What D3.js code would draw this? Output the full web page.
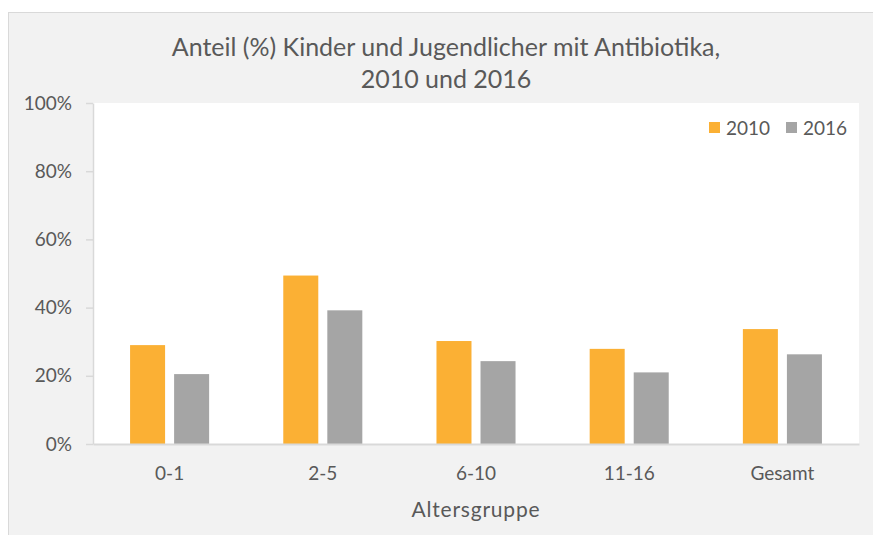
<!DOCTYPE html>
<html>
<head>
<meta charset="utf-8">
<script src="https://cdn.jsdelivr.net/npm/d3@7"></script>
<style>
  html, body { margin: 0; padding: 0; background: #fff; }
  svg { display: block; font-family: Lato, "Open Sans", sans-serif; }
  .axis text { fill: #595959; }
</style>
</head>
<body>
<svg id="chart" width="873" height="535"></svg>
<script>
// --- data ---
const categories = ['0-1', '2-5', '6-10', '11-16', 'Gesamt'];
const series     = ['2010', '2016'];
const values2010 = [0.290, 0.494, 0.302, 0.279, 0.337];
const values2016 = [0.205, 0.392, 0.243, 0.210, 0.263];
const yTicks     = [0, 0.2, 0.4, 0.6, 0.8, 1.0];
const titleLines = ['Anteil (%) Kinder und Jugendlicher mit Antibiotika,', '2010 und 2016'];

const COLOR = { '2010': '#FBB034', '2016': '#A5A5A5' };
const TEXT  = '#595959';
const LINE  = '#D9D9D9';

const W = 873, H = 535;
const plot = { left: 93, right: 859, top: 103, bottom: 444 };

const svg = d3.select('#chart');

// chart background + frame
svg.append('rect').attr('x', 8.5).attr('y', 12.5).attr('width', W).attr('height', H)
  .attr('fill', '#F2F2F2').attr('stroke', LINE).attr('stroke-width', 1);

// plot area
svg.append('rect').attr('x', plot.left).attr('y', plot.top)
  .attr('width', plot.right - plot.left).attr('height', plot.bottom - plot.top)
  .attr('fill', '#fff');

const x0 = d3.scaleBand().domain(categories).range([plot.left, plot.right])
  .paddingInner(0.484).paddingOuter(0.242);
const x1 = d3.scaleBand().domain(series).range([0, x0.bandwidth()])
  .paddingInner(0.205).paddingOuter(0);
const y = d3.scaleLinear().domain([0, 1]).range([plot.bottom, plot.top]);

const rows = categories.map((c, i) => ({ cat: c, vals: [
  { s: '2010', v: values2010[i] }, { s: '2016', v: values2016[i] } ] }));

// bars
svg.append('g').selectAll('g').data(rows).join('g')
  .attr('transform', d => `translate(${x0(d.cat)},0)`)
  .selectAll('rect').data(d => d.vals).join('rect')
  .attr('x', d => x1(d.s)).attr('width', x1.bandwidth())
  .attr('y', d => y(d.v)).attr('height', d => y(0) - y(d.v))
  .attr('fill', d => COLOR[d.s]);

// y axis
const yAxis = svg.append('g').attr('class', 'axis')
  .attr('transform', `translate(${plot.left},0)`)
  .call(d3.axisLeft(y).tickValues(yTicks).tickFormat(d3.format('.0%'))
    .tickSizeInner(7).tickSizeOuter(0).tickPadding(14));
yAxis.selectAll('line, path').attr('stroke', LINE).attr('stroke-width', 1.5);
yAxis.selectAll('text').attr('font-size', 19).attr('font-family', 'Lato');

// x axis
const xAxis = svg.append('g').attr('class', 'axis')
  .attr('transform', `translate(0,${plot.bottom})`)
  .call(d3.axisBottom(x0).tickSize(0).tickPadding(0));
xAxis.select('path').attr('stroke', LINE).attr('stroke-width', 2);
xAxis.selectAll('text').attr('font-size', 19).attr('font-family', 'Lato')
  .attr('dy', null).attr('y', 36);

// axis title
svg.append('text').attr('x', (plot.left + plot.right) / 2).attr('y', 517)
  .attr('text-anchor', 'middle').attr('fill', TEXT).attr('font-size', 21)
  .attr('letter-spacing', 0.8)
  .text('Altersgruppe');

// title
svg.append('g').selectAll('text').data(titleLines).join('text')
  .attr('x', 446).attr('y', (d, i) => 56 + i * 32)
  .attr('text-anchor', 'middle').attr('fill', TEXT).attr('font-size', 25)
  .text(d => d);

// legend
const leg = svg.append('g').selectAll('g').data(series).join('g')
  .attr('transform', (d, i) => `translate(${709 + i * 77},122)`);
leg.append('rect').attr('width', 11).attr('height', 11).attr('fill', d => COLOR[d]);
leg.append('text').attr('x', 17).attr('y', 13).attr('fill', TEXT)
  .attr('font-size', 19).text(d => d);
</script>
</body>
</html>
